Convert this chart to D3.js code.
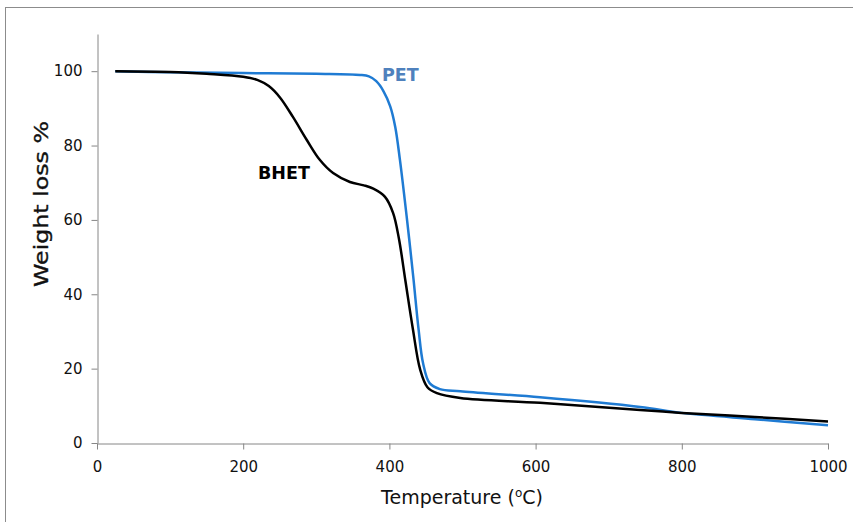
<!DOCTYPE html>
<html>
<head>
<meta charset="utf-8">
<script src="https://cdn.jsdelivr.net/npm/d3@7"></script>
<style>
  html, body { margin: 0; padding: 0; background: #fff; }
  svg { display: block; }
  text { font-family: "DejaVu Sans", sans-serif; }
</style>
</head>
<body>
<svg id="chart" width="853" height="522"></svg>
<script>
// ---- data ----
const xTicks = [0, 200, 400, 600, 800, 1000];
const yTicks = [0, 20, 40, 60, 80, 100];

const bhetTemp   = [25, 100, 150, 200, 220, 235, 250, 268, 287, 305, 323, 346, 365, 378, 394, 405, 413, 422, 432, 442, 452, 465, 497, 606, 743, 800, 900, 1000];
const bhetWeight = [100, 99.8, 99.3, 98.5, 97.6, 96.0, 93.0, 87.7, 81.5, 76.1, 72.6, 70.2, 69.3, 68.4, 66.2, 61.9, 55.0, 43.5, 30.8, 19.8, 15.0, 13.4, 12.1, 10.8, 8.9, 8.1, 7.0, 5.8];

const petTemp   = [25, 100, 200, 300, 360, 372, 382, 392, 401, 408, 414.5, 421, 427, 433, 440, 446, 455, 469, 497, 606, 743, 800, 900, 1000];
const petWeight = [100, 99.7, 99.5, 99.3, 99.0, 98.6, 97.3, 94.6, 90.6, 85.0, 76.0, 65.4, 55.0, 44.0, 30.4, 21.5, 16.1, 14.5, 13.9, 12.3, 9.7, 8.1, 6.4, 4.8];

const seriesNames = ["BHET", "PET"];

// ---- layout ----
const svg = d3.select("#chart");
const W = 853, H = 522;
const m = { left: 97, right: 25, top: 34, bottom: 79 };

svg.append("rect")
  .attr("x", 5.5).attr("y", 7.5)
  .attr("width", W).attr("height", H)
  .attr("fill", "#fff")
  .attr("stroke", "#8c8c8c").attr("stroke-width", 1);

const x = d3.scaleLinear().domain([0, 1000]).range([m.left, 828]);
const y = d3.scaleLinear().domain([0, 110]).range([443, m.top]);

const axisColor = "#868686";

// x axis
const gx = svg.append("g").attr("transform", `translate(0,${y(0) + 0.5})`)
  .call(d3.axisBottom(x).tickValues(xTicks).tickFormat(d3.format("d"))
    .tickSize(6).tickPadding(12).tickSizeOuter(0));
gx.select(".domain").attr("stroke", axisColor);
gx.selectAll(".tick line").attr("stroke", axisColor);
gx.selectAll(".tick text").attr("fill", "#111").attr("font-size", "15px")
  .attr("font-family", "DejaVu Sans, sans-serif");

// y axis
const gy = svg.append("g").attr("transform", `translate(${x(0) + 0.5},0)`)
  .call(d3.axisLeft(y).tickValues(yTicks).tickFormat(d3.format("d"))
    .tickSize(6).tickPadding(9).tickSizeOuter(0));
gy.select(".domain").attr("stroke", axisColor);
gy.selectAll(".tick line").attr("stroke", axisColor);
gy.selectAll(".tick text").attr("fill", "#111").attr("font-size", "15px")
  .attr("font-family", "DejaVu Sans, sans-serif");

// axis titles
const xt = svg.append("text")
  .attr("x", 462).attr("y", 504)
  .attr("text-anchor", "middle")
  .attr("font-size", "19px").attr("fill", "#111");
xt.append("tspan").text("Temperature (");
xt.append("tspan").attr("baseline-shift", "super").attr("font-size", "12px").text("o");
xt.append("tspan").text("C)");

svg.append("text")
  .attr("transform", "translate(48,204) rotate(-90)")
  .attr("text-anchor", "middle")
  .attr("font-size", "20px").attr("fill", "#111")
  .attr("stroke", "#111").attr("stroke-width", 0.35)
  .attr("textLength", 166).attr("lengthAdjust", "spacingAndGlyphs")
  .text("Weight loss %");

// lines
const line = d3.line().x(d => x(d[0])).y(d => y(d[1])).curve(d3.curveCatmullRom.alpha(0.5));
const bhet = d3.zip(bhetTemp, bhetWeight);
const pet = d3.zip(petTemp, petWeight);

svg.append("path").datum(pet)
  .attr("d", line).attr("fill", "none")
  .attr("stroke", "#1f7bd3").attr("stroke-width", 2.5);
svg.append("path").datum(bhet)
  .attr("d", line).attr("fill", "none")
  .attr("stroke", "#000").attr("stroke-width", 2.5);

// labels
svg.append("text").attr("x", 258).attr("y", 179)
  .attr("font-size", "17.5px").attr("font-weight", "bold").attr("fill", "#000")
  .text(seriesNames[0]);
svg.append("text").attr("x", 382).attr("y", 81)
  .attr("font-size", "17.5px").attr("font-weight", "bold").attr("fill", "#4f81bd")
  .text(seriesNames[1]);
</script>
</body>
</html>
